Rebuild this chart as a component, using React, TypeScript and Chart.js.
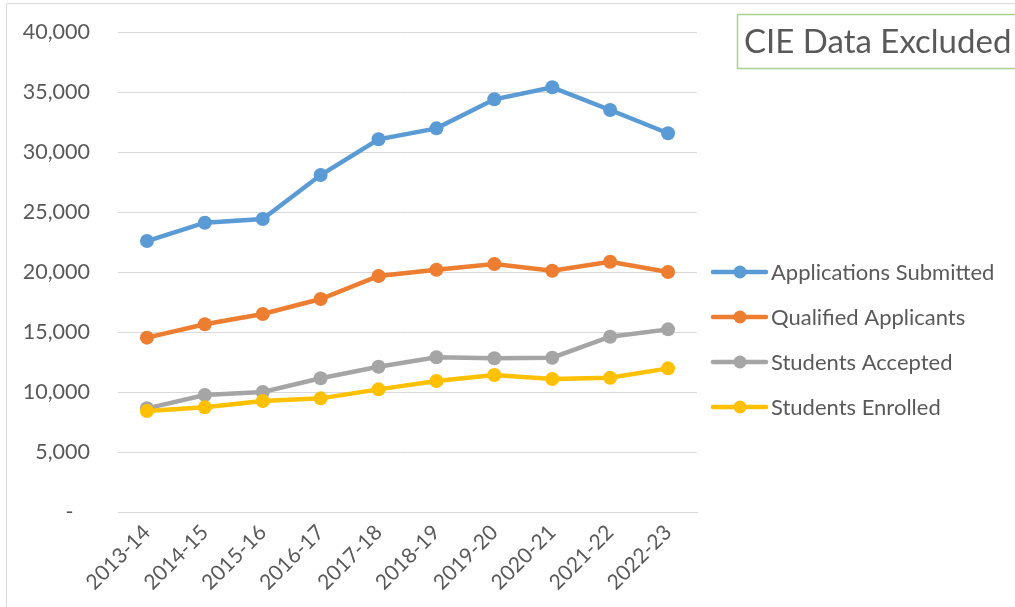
import React, { useEffect, useRef } from "react";
import { Chart, registerables } from "chart.js";

Chart.register(...registerables);

const categories = ["2013-14", "2014-15", "2015-16", "2016-17", "2017-18", "2018-19", "2019-20", "2020-21", "2021-22", "2022-23"];
const applicationsSubmitted = [22580, 24110, 24420, 28080, 31060, 31970, 34390, 35390, 33500, 31560];
const qualifiedApplicants = [14530, 15640, 16500, 17750, 19670, 20190, 20670, 20110, 20860, 20000];
const studentsAccepted = [8640, 9750, 10000, 11140, 12110, 12890, 12810, 12860, 14610, 15220];
const studentsEnrolled = [8420, 8720, 9250, 9470, 10220, 10920, 11420, 11080, 11190, 11970];
const seriesNames = ["Applications Submitted", "Qualified Applicants", "Students Accepted", "Students Enrolled"];
const seriesColors = ["#5B9BD5", "#ED7D31", "#A5A5A5", "#FFC000"];
const yMin = 0;
const yMax = 40000;
const yStep = 5000;
const noteText = "CIE Data Excluded";

const FONT = "Lato, 'Open Sans', sans-serif";
const TEXT = "#595959";

const decorPlugin = {
  id: "decor",
  beforeDraw(chart: any) {
    const ctx = chart.ctx;
    ctx.save();
    ctx.fillStyle = "#ffffff";
    ctx.fillRect(0, 0, chart.width, chart.height);
    ctx.strokeStyle = "#d9d9d9";
    ctx.lineWidth = 1;
    ctx.beginPath();
    ctx.moveTo(6.5, chart.height);
    ctx.lineTo(6.5, 3.5);
    ctx.lineTo(chart.width, 3.5);
    ctx.stroke();
    ctx.restore();
  },
  afterDraw(chart: any) {
    const ctx = chart.ctx;
    ctx.save();
    const ys = [272, 317, 362, 407];
    chart.data.datasets.forEach((ds: any, i: number) => {
      const y = ys[i];
      ctx.strokeStyle = ds.borderColor;
      ctx.lineWidth = 4.5;
      ctx.lineCap = "round";
      ctx.beginPath();
      ctx.moveTo(713, y);
      ctx.lineTo(766, y);
      ctx.stroke();
      ctx.fillStyle = ds.borderColor;
      ctx.beginPath();
      ctx.arc(740, y, 6.5, 0, Math.PI * 2);
      ctx.fill();
      ctx.fillStyle = TEXT;
      ctx.font = `22px ${FONT}`;
      ctx.textAlign = "left";
      ctx.textBaseline = "middle";
      ctx.fillText(ds.label, 771, y + 1);
    });
    ctx.fillStyle = "#ffffff";
    ctx.fillRect(737.5, 14.5, 400, 54);
    ctx.strokeStyle = "#A9D18E";
    ctx.lineWidth = 1.5;
    ctx.strokeRect(737.5, 14.5, 400, 54);
    ctx.fillStyle = TEXT;
    ctx.font = `33px ${FONT}`;
    ctx.textAlign = "left";
    ctx.textBaseline = "middle";
    ctx.fillText(noteText, 744, 42);
    ctx.restore();
  },
};

export default function App() {
  const ref = useRef<HTMLCanvasElement | null>(null);

  useEffect(() => {
    if (!ref.current) return;
    const series = [applicationsSubmitted, qualifiedApplicants, studentsAccepted, studentsEnrolled];
    const chart = new Chart(ref.current, {
      type: "line",
      data: {
        labels: categories,
        datasets: series.map((data, i) => ({
          label: seriesNames[i],
          data,
          borderColor: seriesColors[i],
          backgroundColor: seriesColors[i],
          pointBackgroundColor: seriesColors[i],
          pointBorderWidth: 0,
          pointRadius: 7,
          borderWidth: 4.5,
          tension: 0,
          order: 3 - i,
        })),
      },
      options: {
        responsive: false,
        animation: false,
        layout: { padding: { left: 0, top: 32, right: 318, bottom: 0 } },
        plugins: { legend: { display: false }, tooltip: { enabled: false } },
        scales: {
          x: {
            offset: true,
            grid: { display: false, drawTicks: false },
            border: { display: true, color: "#d9d9d9", width: 1 },
            ticks: {
              color: TEXT,
              font: { family: FONT, size: 21 },
              maxRotation: 45,
              minRotation: 45,
              padding: 8,
              autoSkip: false,
            },
            afterFit: (axis: any) => {
              axis.height = 95;
            },
          },
          y: {
            min: yMin,
            max: yMax,
            grid: { color: "#d9d9d9", drawTicks: false },
            border: { display: false },
            ticks: {
              stepSize: yStep,
              color: TEXT,
              font: { family: FONT, size: 21.5 },
              padding: 28,
              callback: (v: any) => (Number(v) === 0 ? "-   " : Number(v).toLocaleString("en-US")),
            },
            afterFit: (axis: any) => {
              axis.width = 118;
              axis.paddingTop = 0;
              axis.paddingBottom = 0;
            },
          },
        },
      },
      plugins: [decorPlugin],
    });
    return () => chart.destroy();
  }, []);

  return (
    <div style={{ position: "fixed", left: 0, top: 0, width: 1015, height: 607, background: "#fff" }}>
      <canvas ref={ref} width={1015} height={607} style={{ display: "block" }} />
    </div>
  );
}
